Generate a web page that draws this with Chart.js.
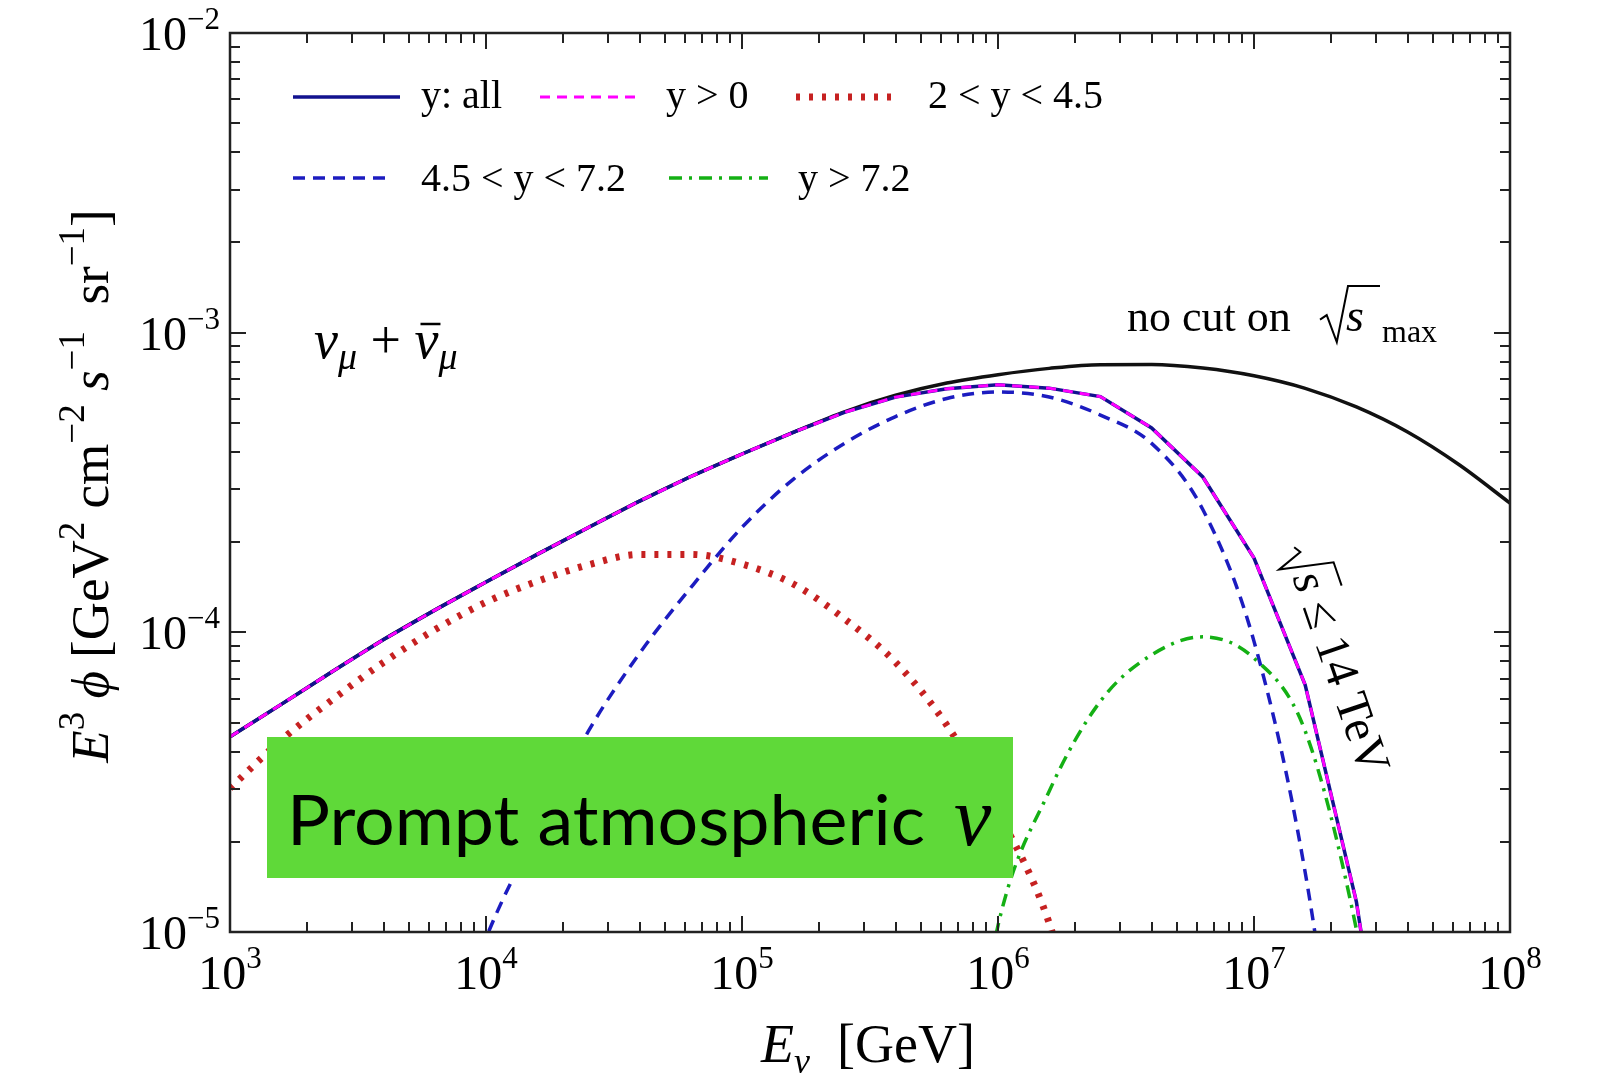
<!DOCTYPE html>
<html>
<head>
<meta charset="utf-8">
<title>Prompt atmospheric neutrino flux</title>
<script src="https://cdn.jsdelivr.net/npm/chart.js@4.4.0/dist/chart.umd.min.js"></script>
<style>
  html, body { margin: 0; padding: 0; background: #fff; }
  canvas { display: block; }
</style>
</head>
<body>
<canvas id="chart" width="1604" height="1074"></canvas>
<script>
// ===============================
// Data
// ===============================
// neutrino energy grid [GeV], 0.2 steps in log10 from 1e3 to 1e8
const energyGeV = [
    1e3, 1.585e3, 2.512e3, 3.981e3, 6.310e3,
    1e4, 1.585e4, 2.512e4, 3.981e4, 6.310e4,
    1e5, 1.585e5, 2.512e5, 3.981e5, 6.310e5,
    1e6, 1.585e6, 2.512e6, 3.981e6, 6.310e6,
    1e7, 1.585e7, 2.512e7, 3.981e7, 6.310e7,
    1e8
];

// E^3 phi [GeV^2 cm^-2 s^-1 sr^-1]
const fluxNoCut = [
    4.48e-5, 5.75e-5, 7.40e-5, 9.46e-5, 1.186e-4,
    1.472e-4, 1.820e-4, 2.239e-4, 2.742e-4, 3.311e-4,
    3.936e-4, 4.645e-4, 5.445e-4, 6.18e-4, 6.79e-4,
    7.24e-4, 7.60e-4, 7.82e-4, 7.83e-4, 7.62e-4,
    7.18e-4, 6.52e-4, 5.65e-4, 4.66e-4, 3.63e-4,
    2.70e-4
];
const fluxAll = [
    4.48e-5, 5.75e-5, 7.40e-5, 9.46e-5, 1.186e-4,
    1.472e-4, 1.820e-4, 2.239e-4, 2.742e-4, 3.311e-4,
    3.936e-4, 4.645e-4, 5.420e-4, 6.095e-4, 6.501e-4,
    6.699e-4, 6.53e-4, 6.12e-4, 4.81e-4, 3.30e-4,
    1.77e-4, 6.67e-5, 1.26e-5, 1.0e-6, null,
    null
];
const fluxYgt0 = [
    4.48e-5, 5.75e-5, 7.40e-5, 9.46e-5, 1.186e-4,
    1.472e-4, 1.820e-4, 2.239e-4, 2.742e-4, 3.311e-4,
    3.936e-4, 4.645e-4, 5.420e-4, 6.095e-4, 6.501e-4,
    6.699e-4, 6.53e-4, 6.12e-4, 4.81e-4, 3.30e-4,
    1.77e-4, 6.67e-5, 1.26e-5, 1.0e-6, null,
    null
];
const fluxY2to45 = [
    3.02e-5, 4.37e-5, 5.96e-5, 7.94e-5, 1.02e-4,
    1.26e-4, 1.48e-4, 1.68e-4, 1.82e-4, 1.82e-4,
    1.69e-4, 1.45e-4, 1.109e-4, 7.94e-5, 4.90e-5,
    2.51e-5, 1.07e-5, 2.5e-6, null, null,
    null, null, null, null, null,
    null
];
const fluxY45to72 = [
    null, null, null, null, 3.16e-6,
    9.55e-6, 2.19e-5, 4.68e-5, 8.51e-5, 1.41e-4,
    2.24e-4, 3.24e-4, 4.27e-4, 5.25e-4, 6.03e-4,
    6.34e-4, 6.10e-4, 5.31e-4, 4.27e-4, 2.57e-4,
    9.33e-5, 1.58e-5, 1.0e-6, null, null,
    null
];
const fluxYgt72 = [
    null, null, null, null, null,
    null, null, null, null, null,
    null, null, null, null, 1.0e-6,
    1.05e-5, 2.95e-5, 5.89e-5, 8.41e-5, 9.66e-5,
    8.20e-5, 4.68e-5, 1.02e-5, 1.0e-6, null,
    null
];

// tick label exponents
const xTickExp = [3, 4, 5, 6, 7, 8];
const yTickExp = [-5, -4, -3, -2];

const SERIF = '"Liberation Serif", "Times New Roman", serif';
function font(size, italic) {
    return (italic ? 'italic ' : '') + size + 'px ' + SERIF;
}

function toPoints(values) {
    return energyGeV.map((e, i) => ({ x: e, y: values[i] }));
}

// draws a row of text pieces (normal, sub, sup) and returns their x positions
function drawRuns(ctx, runs, x, y, align) {
    let w = 0;
    runs.forEach(r => { ctx.font = r.font; w += ctx.measureText(r.t).width; });
    let cx = x;
    if (align === 'center') cx = x - w / 2;
    if (align === 'right') cx = x - w;
    const pos = [];
    runs.forEach(r => {
        ctx.font = r.font;
        ctx.fillText(r.t, cx, y + (r.dy || 0));
        const rw = ctx.measureText(r.t).width;
        pos.push({ x: cx, w: rw });
        cx += rw;
    });
    return pos;
}

// square root sign: x = left, b = bottom, h = height, w = overline length
function drawRadical(ctx, x, b, h, w) {
    ctx.beginPath();
    ctx.moveTo(x, b - 0.4 * h);
    ctx.lineTo(x + 0.12 * h, b - 0.48 * h);
    ctx.lineTo(x + 0.3 * h, b);
    ctx.lineTo(x + 0.5 * h, b - h);
    ctx.lineTo(x + 0.5 * h + w, b - h);
    ctx.stroke();
}

// ===============================
// Frame, ticks, labels, legend, notes
// ===============================
const decorPlugin = {
    id: 'decor',
    beforeDraw(chart) {
        const ctx = chart.ctx;
        ctx.save();
        ctx.fillStyle = '#fff';
        ctx.fillRect(0, 0, chart.width, chart.height);
        ctx.restore();
    },
    afterDraw(chart) {
        const { ctx, chartArea: a, scales: { x, y } } = chart;
        ctx.save();

        // inner ticks
        ctx.strokeStyle = '#222';
        ctx.lineWidth = 2;
        ctx.beginPath();
        for (let n = 3; n < 8; n++) {
            for (let k = 1; k <= 9; k++) {
                const px = Math.round(x.getPixelForValue(k * Math.pow(10, n)));
                const len = k === 1 ? 16 : 10;
                ctx.moveTo(px, a.bottom); ctx.lineTo(px, a.bottom - len);
                ctx.moveTo(px, a.top); ctx.lineTo(px, a.top + len);
            }
        }
        for (let n = -5; n < -2; n++) {
            for (let k = 1; k <= 9; k++) {
                const py = Math.round(y.getPixelForValue(k * Math.pow(10, n)));
                const len = k === 1 ? 16 : 10;
                ctx.moveTo(a.left, py); ctx.lineTo(a.left + len, py);
                ctx.moveTo(a.right, py); ctx.lineTo(a.right - len, py);
            }
        }
        ctx.stroke();

        // frame
        ctx.lineWidth = 2.5;
        ctx.strokeRect(a.left, a.top, a.right - a.left, a.bottom - a.top);

        // tick labels
        ctx.fillStyle = '#000';
        ctx.textBaseline = 'alphabetic';
        ctx.textAlign = 'left';
        xTickExp.forEach(n => {
            const px = x.getPixelForValue(Math.pow(10, n));
            drawRuns(ctx, [
                { t: '10', font: font(48) },
                { t: String(n), font: font(31), dy: -21 }
            ], px, 989, 'center');
        });
        yTickExp.forEach(n => {
            const py = y.getPixelForValue(Math.pow(10, n));
            drawRuns(ctx, [
                { t: '10', font: font(48) },
                { t: '\u2212' + Math.abs(n), font: font(31), dy: -21 }
            ], 220, py + 17, 'right');
        });

        // axis titles
        drawRuns(ctx, [
            { t: 'E', font: font(54, true) },
            { t: '\u03bd', font: font(36, true), dy: 11 },
            { t: '  [GeV]', font: font(54) }
        ], 868, 1062, 'center');

        ctx.save();
        ctx.translate(108, 486);
        ctx.rotate(-Math.PI / 2);
        const big = font(53);
        const sup = font(37);
        drawRuns(ctx, [
            { t: 'E', font: font(53, true) },
            { t: '3', font: sup, dy: -24 },
            { t: ' ', font: big },
            { t: '\u03d5', font: font(53, true) },
            { t: ' [GeV', font: big },
            { t: '2', font: sup, dy: -24 },
            { t: ' cm', font: big },
            { t: '\u22122', font: sup, dy: -24 },
            { t: ' ', font: big },
            { t: 's', font: font(53, true) },
            { t: '\u22121', font: sup, dy: -24 },
            { t: '  sr', font: big },
            { t: '\u22121', font: sup, dy: -24 },
            { t: ']', font: big }
        ], 0, 0, 'center');
        ctx.restore();

        // legend, drawn with the dataset styles
        const legendSlots = [
            { ds: 1, x0: 293, x1: 400, ly: 97, tx: 421, ty: 108 },
            { ds: 0, x0: 540, x1: 640, ly: 97, tx: 666, ty: 108 },
            { ds: 4, x0: 796, x1: 900, ly: 97, tx: 928, ty: 108 },
            { ds: 3, x0: 293, x1: 393, ly: 178, tx: 421, ty: 191 },
            { ds: 2, x0: 669, x1: 768, ly: 178, tx: 798, ty: 191 }
        ];
        legendSlots.forEach(s => {
            const d = chart.data.datasets[s.ds];
            ctx.save();
            ctx.strokeStyle = d.borderColor;
            ctx.lineWidth = d.borderWidth;
            ctx.setLineDash(d.borderDash || []);
            ctx.beginPath();
            ctx.moveTo(s.x0, s.ly);
            ctx.lineTo(s.x1, s.ly);
            ctx.stroke();
            ctx.restore();
            ctx.font = font(40);
            ctx.fillText(d.label, s.tx, s.ty);
        });

        // nu_mu + anti nu_mu
        const nu = drawRuns(ctx, [
            { t: '\u03bd', font: font(54, true) },
            { t: '\u03bc', font: font(38, true), dy: 11 },
            { t: ' + ', font: font(54) },
            { t: '\u03bd', font: font(54, true) },
            { t: '\u03bc', font: font(38, true), dy: 11 }
        ], 314, 358, 'left');
        ctx.lineWidth = 2.5;
        ctx.strokeStyle = '#000';
        ctx.beginPath();
        ctx.moveTo(nu[3].x + 6, 324);
        ctx.lineTo(nu[3].x + nu[3].w + 2, 324);
        ctx.stroke();

        // no cut on sqrt(s)_max
        drawRuns(ctx, [{ t: 'no cut on', font: font(44) }], 1127, 331, 'left');
        ctx.lineWidth = 2;
        drawRadical(ctx, 1320, 342, 56, 32);
        drawRuns(ctx, [{ t: 's', font: font(46, true) }], 1346, 331, 'left');
        drawRuns(ctx, [{ t: 'max', font: font(32) }], 1382, 342, 'left');

        // sqrt(s) <= 14 TeV, along the falling curve
        ctx.save();
        ctx.translate(1338, 658);
        ctx.rotate(71 * Math.PI / 180);
        const rest = ' \u2264 14 TeV';
        ctx.font = font(48, true);
        const sW = ctx.measureText('s').width;
        ctx.font = font(48);
        const restW = ctx.measureText(rest).width;
        const total = 27 + sW + restW;
        const x0 = -total / 2;
        ctx.lineWidth = 2;
        drawRadical(ctx, x0, 27, 54, sW + 6);
        drawRuns(ctx, [
            { t: 's', font: font(48, true) },
            { t: rest, font: font(48) }
        ], x0 + 28, 17, 'left');
        ctx.restore();

        // green caption box
        ctx.fillStyle = '#5fd939';
        ctx.fillRect(267, 737, 746, 141);
        ctx.fillStyle = '#000';
        ctx.font = '70px Lato, "DejaVu Sans", sans-serif';
        const cap = 'Prompt atmospheric';
        const capW = ctx.measureText(cap).width;
        ctx.save();
        ctx.translate(287, 845);
        ctx.scale(638 / capW, 1);
        ctx.fillText(cap, 0, 0);
        ctx.restore();
        ctx.font = font(84, true);
        ctx.fillText('\u03bd', 954, 845);

        ctx.restore();
    }
};

// ===============================
// Chart
// ===============================
function lineSet(label, values, color, width, dash, order, smooth) {
    return {
        label: label,
        data: toPoints(values),
        borderColor: color,
        borderWidth: width,
        borderDash: dash,
        borderCapStyle: 'butt',
        pointRadius: 0,
        fill: false,
        cubicInterpolationMode: smooth ? 'monotone' : 'default',
        tension: 0,
        spanGaps: false,
        order: order
    };
}

new Chart(document.getElementById('chart'), {
    type: 'line',
    data: {
        datasets: [
            lineSet('y > 0', fluxYgt0, '#ff00ff', 3, [10, 7], 0, false),
            lineSet('y: all', fluxAll, '#12128f', 3.5, [], 1, false),
            lineSet('y > 7.2', fluxYgt72, '#14b014', 3.5, [13, 7, 3, 7], 2, true),
            lineSet('4.5 < y < 7.2', fluxY45to72, '#1c1cc0', 3.5, [12, 8], 3, true),
            lineSet('2 < y < 4.5', fluxY2to45, '#c62121', 7, [4, 9], 4, true),
            lineSet('no cut', fluxNoCut, '#111111', 3.5, [], 5, true)
        ]
    },
    options: {
        responsive: false,
        animation: false,
        layout: { padding: { left: 230, right: 94, top: 33, bottom: 142 } },
        plugins: {
            legend: { display: false },
            tooltip: { enabled: false }
        },
        scales: {
            x: { type: 'logarithmic', min: 1e3, max: 1e8, display: false },
            y: { type: 'logarithmic', min: 1e-5, max: 1e-2, display: false }
        }
    },
    plugins: [decorPlugin]
});
</script>
</body>
</html>
